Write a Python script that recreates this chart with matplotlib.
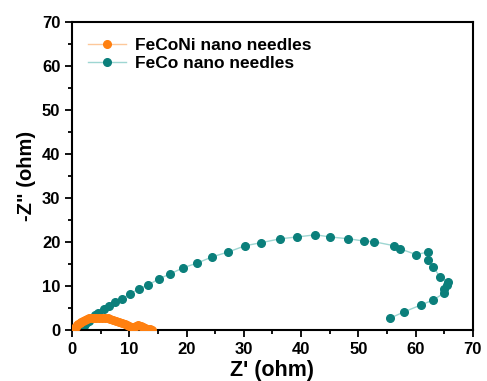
import matplotlib
matplotlib.use("Agg")
import matplotlib.pyplot as plt
from matplotlib.ticker import MultipleLocator

plt.rcParams['font.family'] = ['Liberation Sans', 'DejaVu Sans']
plt.rcParams['font.weight'] = 'bold'

# Nyquist data, FeCoNi nano needles
feconi_zre = [0.2, 0.4, 0.6, 0.8, 1.0, 1.3, 1.6, 1.9, 2.2, 2.6, 3.0, 3.4, 3.8, 4.2,
              4.7, 5.2, 5.7, 6.2, 6.7, 7.2, 7.7, 8.2, 8.7, 9.2, 9.6, 10.0, 10.4,
              10.8, 11.2, 11.6, 12.0, 12.4, 12.8, 13.2, 13.6, 14.0]
feconi_zim = [0.1, 0.5, 0.8, 1.1, 1.4, 1.7, 2.0, 2.2, 2.4, 2.6, 2.7, 2.8, 2.9, 2.9,
              2.9, 2.9, 2.8, 2.7, 2.5, 2.3, 2.1, 1.9, 1.6, 1.4, 1.2, 1.0, 0.8,
              0.7, 0.9, 1.1, 1.0, 0.7, 0.5, 0.3, 0.2, 0.1]

# Nyquist data, FeCo nano needles
feco_zre = [1.5, 2.0, 2.5, 3.0, 3.5, 4.0, 4.6, 5.6, 6.5, 7.5, 8.8, 10.1, 11.7,
            13.3, 15.2, 17.1, 19.4, 21.9, 24.5, 27.3, 30.2, 33.0, 36.4, 39.3,
            42.5, 45.1, 48.2, 50.9, 52.8, 56.3, 57.3, 60.1, 62.2, 62.1, 63.1,
            64.2, 65.6, 65.4, 65.0, 65.0, 63.1, 61.0, 58.0, 55.6]
feco_zim = [0.3, 1.0, 1.6, 2.2, 2.8, 3.4, 4.0, 4.9, 5.6, 6.4, 7.2, 8.3, 9.4,
            10.3, 11.7, 12.8, 14.2, 15.3, 16.7, 17.8, 19.2, 19.9, 20.8, 21.2,
            21.7, 21.2, 20.8, 20.3, 20.1, 19.2, 18.5, 17.2, 17.8, 16.0, 14.4,
            12.2, 11.0, 10.3, 9.4, 8.5, 6.9, 5.8, 4.2, 2.8]

x_ticks = [0, 10, 20, 30, 40, 50, 60, 70]
y_ticks = [0, 10, 20, 30, 40, 50, 60, 70]

fig = plt.figure(figsize=(4.87, 3.81), dpi=100)
ax = fig.add_axes([0.148, 0.133, 0.823, 0.809])

ax.plot(feconi_zre, feconi_zim, '-o', color='#FDC89A', lw=1.0,
        marker='o', markersize=5.5, markerfacecolor='#FF8010',
        markeredgecolor='#FF8010', label='FeCoNi nano needles', zorder=3)
ax.plot(feco_zre, feco_zim, '-o', color='#9ED6D2', lw=1.0,
        marker='o', markersize=5.5, markerfacecolor='#0B7F7B',
        markeredgecolor='#0B7F7B', label='FeCo nano needles', zorder=2)

ax.set_xlim(0, 70)
ax.set_ylim(0, 70)
ax.set_xticks(x_ticks)
ax.set_yticks(y_ticks)
ax.xaxis.set_minor_locator(MultipleLocator(5))
ax.yaxis.set_minor_locator(MultipleLocator(5))
ax.tick_params(which='major', direction='out', length=5, width=1.3,
               labelsize=12, top=False, right=False)
ax.tick_params(which='minor', direction='out', length=3, width=1.3,
               top=False, right=False)
for lab in ax.get_xticklabels() + ax.get_yticklabels():
    lab.set_fontweight('bold')
for s in ax.spines.values():
    s.set_linewidth(1.5)

ax.set_xlabel("Z' (ohm)", fontsize=15.5, fontweight='bold', labelpad=2)
ax.set_ylabel('-Z" (ohm)', fontsize=14.5, fontweight='bold', labelpad=4)

leg = ax.legend(loc='upper left', frameon=False,
                handlelength=2.2, borderaxespad=0.5, labelspacing=0.15,
                handletextpad=0.5, prop={'weight': 'bold', 'size': 12.5})

fig.savefig('out.png', dpi=100)
